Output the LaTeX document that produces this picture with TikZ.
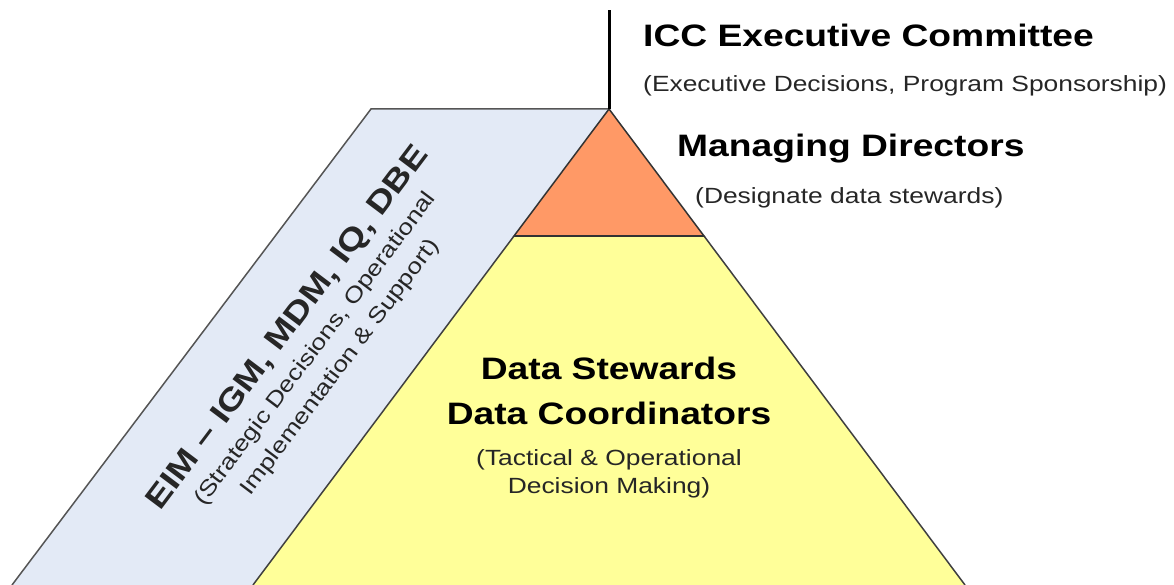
\documentclass[tikz,border=0pt]{standalone}
\usepackage{fontspec}
\setmainfont{Liberation Sans}[FakeStretch=1.2]
\usetikzlibrary{positioning}
\definecolor{bandblue}{RGB}{227, 234, 246}
\definecolor{baseyellow}{RGB}{255, 255, 153}
\definecolor{toporange}{RGB}{255, 153, 102}
\definecolor{edgegray}{RGB}{85, 85, 85}

\begin{document}
\begin{tikzpicture}[
        x=1pt, y=1pt,
        edge/.style={draw=edgegray, line width=1.5pt, line join=miter},
        title/.style={inner sep=0pt, font=\fontsize{31}{45}\selectfont\bfseries},
        note/.style={inner sep=0pt, font=\fontsize{22}{28}\selectfont, text=black!85}
    ]
        \useasboundingbox (0, 0) rectangle (1174, 585);

        \coordinate (apex) at (609, 476);
        \coordinate (top) at (609, 575);
        \coordinate (bl) at (12, 0);
        \coordinate (tl) at (371, 476);
        \coordinate (ml) at (514, 349);
        \coordinate (mr) at (704, 349);
        \coordinate (pl) at (253, 0);
        \coordinate (pr) at (965, 0);

        \fill[bandblue] (bl) -- (tl) -- (apex) -- (pl) -- cycle;
        \draw[edge] (bl) -- (tl) -- (apex);

        \fill[baseyellow] (pl) -- (ml) -- (mr) -- (pr) -- cycle;
        \draw[edge, draw=black!75] (pl) -- (ml);
        \draw[edge, draw=black!75] (mr) -- (pr);

        \filldraw[toporange, draw=black!80, line width=1.5pt] (ml) -- (apex) -- (mr) -- cycle;
        \draw[black!80, line width=2pt] (ml) -- (mr);

        \draw[black, line width=3pt] (apex) -- (top);

        \node[title, anchor=base west] (exec) at (643, 538) {ICC Executive Committee};
        \node[note, anchor=base west] (execsub) at (643, 493) {(Executive Decisions, Program Sponsorship)};
        \node[title, anchor=base west] (mgmt) at (677, 428) {Managing Directors};
        \node[note, anchor=base west] (mgmtsub) at (695, 381) {(Designate data stewards)};

        \node[title, anchor=north, align=center] (stewards) at (609, 228) {Data Stewards\\Data Coordinators};
        \node[note, anchor=north, align=center] (tactical) at (609, 136) {(Tactical \& Operational\\Decision Making)};

        \node[note, font=\fontsize{22}{31}\selectfont, rotate=53, align=center] (eim) at (313, 238)
            {{\fontsize{31}{34}\selectfont\bfseries EIM – IGM, MDM, IQ, DBE}\\[1pt]
             (Strategic Decisions, Operational\\Implementation \& Support)};
    \end{tikzpicture}
\end{document}
